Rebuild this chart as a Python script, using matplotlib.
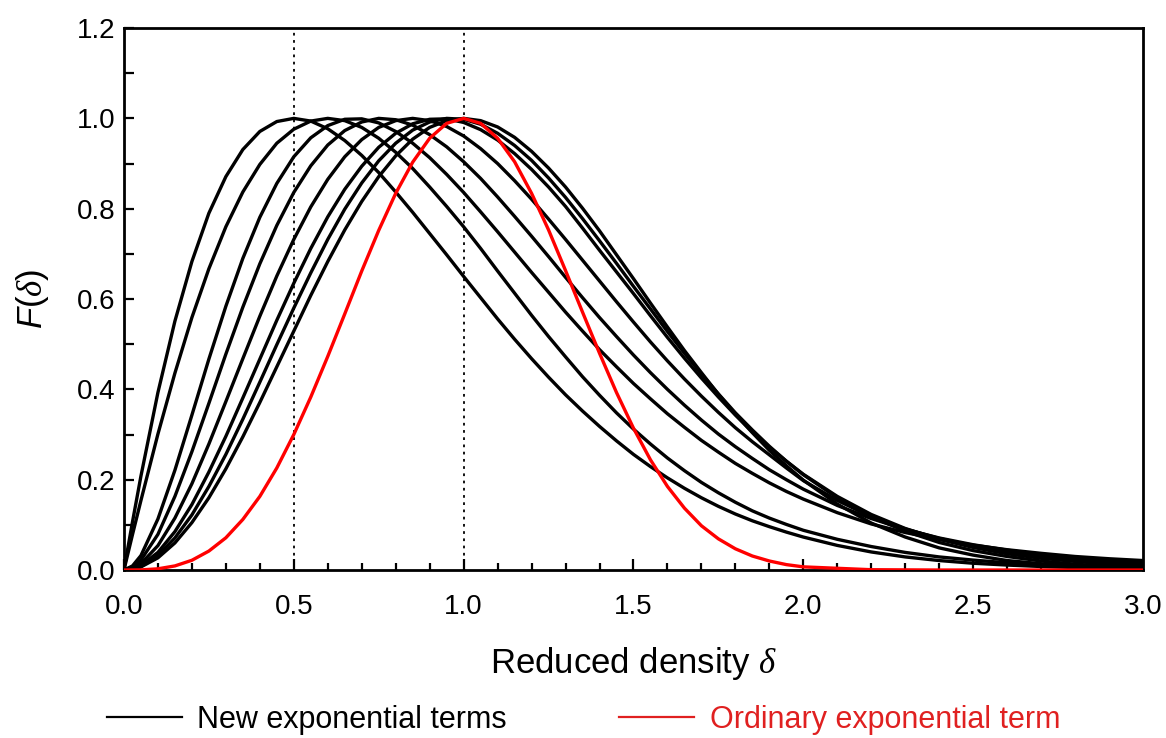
import matplotlib
matplotlib.use('Agg')
import matplotlib.pyplot as plt
from matplotlib.lines import Line2D
from matplotlib.ticker import MultipleLocator, FormatStrFormatter

plt.rcParams['font.family'] = ['Liberation Sans', 'DejaVu Sans']
plt.rcParams['mathtext.fontset'] = 'custom'
plt.rcParams['mathtext.rm'] = 'Liberation Sans'
plt.rcParams['mathtext.it'] = 'Liberation Serif:italic'
plt.rcParams['mathtext.sf'] = 'Liberation Sans:italic'

# reduced density grid for the new exponential terms
delta = [0, 0.025, 0.05, 0.1, 0.15, 0.2, 0.25, 0.3, 0.35, 0.4, 0.45, 0.5,
         0.55, 0.6, 0.65, 0.7, 0.75, 0.8, 0.85, 0.9, 0.95, 1.0, 1.05, 1.1, 1.15,
         1.2, 1.25, 1.3, 1.35, 1.4, 1.45, 1.5, 1.55, 1.6, 1.65, 1.7, 1.75, 1.8,
         1.85, 1.9, 1.95, 2.0,
         2.1, 2.2, 2.3, 2.4, 2.5, 2.6, 2.7, 2.8, 2.9, 3.0]

# new exponential terms
term_1 = [0, 0.106, 0.208, 0.393, 0.551, 0.683, 0.790, 0.871, 0.931, 0.971, 0.993, 1.0,
          0.994, 0.977, 0.951, 0.918, 0.880, 0.837, 0.792, 0.745, 0.698, 0.650, 0.603, 0.556,
          0.511, 0.468, 0.427, 0.388, 0.352, 0.318, 0.286, 0.256, 0.229, 0.204, 0.181, 0.160,
          0.141, 0.124, 0.109, 0.096, 0.084, 0.073,
          0.0545, 0.040, 0.029, 0.021, 0.015, 0.011, 0.0078, 0.0055, 0.0039, 0.003]
term_2 = [0, 0.078, 0.154, 0.301, 0.436, 0.559, 0.667, 0.760, 0.837, 0.898, 0.945, 0.976,
          0.994, 1.0, 0.995, 0.980, 0.956, 0.925, 0.889, 0.848, 0.805, 0.760, 0.712, 0.662,
          0.613, 0.564, 0.517, 0.472, 0.428, 0.387, 0.348, 0.312, 0.279, 0.248, 0.220, 0.194,
          0.171, 0.150, 0.131, 0.115, 0.101, 0.088,
          0.068, 0.052, 0.039, 0.029, 0.022, 0.016, 0.011, 0.008, 0.0055, 0.004]
term_3 = [0, 0.009, 0.032, 0.113, 0.221, 0.343, 0.467, 0.584, 0.690, 0.781, 0.856, 0.915,
          0.957, 0.984, 0.998, 0.999, 0.990, 0.971, 0.945, 0.913, 0.876, 0.836, 0.793, 0.749,
          0.704, 0.659, 0.615, 0.571, 0.529, 0.488, 0.450, 0.413, 0.379, 0.346, 0.316, 0.287,
          0.261, 0.236, 0.214, 0.193, 0.174, 0.157,
          0.127, 0.102, 0.083, 0.068, 0.055, 0.045, 0.037, 0.030, 0.025, 0.021]
term_4 = [0, 0.006, 0.022, 0.079, 0.163, 0.262, 0.369, 0.478, 0.582, 0.678, 0.763, 0.836,
          0.895, 0.941, 0.973, 0.992, 1.0, 0.997, 0.985, 0.964, 0.937, 0.904, 0.867, 0.826,
          0.783, 0.739, 0.694, 0.648, 0.603, 0.559, 0.517, 0.476, 0.437, 0.400, 0.365, 0.332,
          0.301, 0.273, 0.247, 0.222, 0.200, 0.179,
          0.143, 0.114, 0.090, 0.071, 0.056, 0.044, 0.034, 0.027, 0.021, 0.017]
term_5 = [0, 0.004, 0.014, 0.054, 0.115, 0.191, 0.279, 0.373, 0.468, 0.562, 0.651, 0.732,
          0.804, 0.865, 0.915, 0.953, 0.980, 0.995, 1.0, 0.995, 0.982, 0.961, 0.933, 0.900,
          0.862, 0.821, 0.777, 0.732, 0.686, 0.640, 0.594, 0.549, 0.505, 0.463, 0.423, 0.385,
          0.349, 0.315, 0.284, 0.255, 0.226, 0.198,
          0.154, 0.118, 0.091, 0.070, 0.053, 0.040, 0.030, 0.022, 0.016, 0.012]
term_6 = [0, 0.0025, 0.010, 0.039, 0.085, 0.145, 0.217, 0.296, 0.381, 0.467, 0.553, 0.635,
          0.712, 0.782, 0.843, 0.894, 0.936, 0.967, 0.988, 0.998, 0.999, 0.991, 0.975, 0.952,
          0.922, 0.887, 0.848, 0.805, 0.757, 0.708, 0.660, 0.612, 0.563, 0.515, 0.469, 0.425,
          0.383, 0.343, 0.306, 0.272, 0.241, 0.212,
          0.163, 0.123, 0.092, 0.068, 0.050, 0.036, 0.026, 0.019, 0.013, 0.009]
term_7 = [0, 0.002, 0.008, 0.032, 0.071, 0.122, 0.185, 0.256, 0.334, 0.416, 0.499, 0.580,
          0.658, 0.732, 0.799, 0.857, 0.906, 0.945, 0.974, 0.992, 1.0, 0.998, 0.987, 0.967,
          0.940, 0.907, 0.868, 0.825, 0.778, 0.729, 0.679, 0.628, 0.578, 0.528, 0.480, 0.434,
          0.390, 0.348, 0.310, 0.274, 0.241, 0.211,
          0.160, 0.118, 0.086, 0.061, 0.043, 0.030, 0.020, 0.013, 0.008, 0.006]
term_8 = [0, 0.0017, 0.0068, 0.027, 0.060, 0.105, 0.160, 0.224, 0.295, 0.371, 0.450, 0.529,
          0.608, 0.683, 0.753, 0.816, 0.871, 0.917, 0.954, 0.980, 0.995, 1.0, 0.995, 0.981,
          0.958, 0.927, 0.890, 0.848, 0.801, 0.751, 0.698, 0.645, 0.591, 0.538, 0.486, 0.437,
          0.389, 0.345, 0.304, 0.265, 0.231, 0.199,
          0.146, 0.104, 0.073, 0.049, 0.033, 0.021, 0.014, 0.008, 0.005, 0.003]

# ordinary exponential term
delta_ord = [0, 0.05, 0.1, 0.15, 0.2, 0.25, 0.3, 0.35, 0.4, 0.45, 0.5, 0.55, 0.6, 0.65,
             0.7, 0.75, 0.8, 0.85, 0.9, 0.95, 1.0, 1.05, 1.1, 1.15, 1.2, 1.25, 1.3, 1.35,
             1.4, 1.45, 1.5, 1.55, 1.6, 1.65, 1.7, 1.75, 1.8, 1.85, 1.9, 1.95, 2.0, 2.2,
             2.4, 2.6, 2.8, 3.0]
ordinary_term = [0, 0.0003, 0.0027, 0.0091, 0.0216, 0.042, 0.0714, 0.112, 0.163, 0.226,
                 0.300, 0.383, 0.473, 0.567, 0.662, 0.752, 0.834, 0.903, 0.956, 0.989, 1.0,
                 0.989, 0.956, 0.904, 0.834, 0.753, 0.663, 0.571, 0.480, 0.393, 0.314, 0.244,
                 0.185, 0.137, 0.098, 0.069, 0.047, 0.031, 0.020, 0.012, 0.007, 0.0007,
                 0, 0, 0, 0]

new_terms = [term_1, term_2, term_3, term_4, term_5, term_6, term_7, term_8]
guide_lines = [0.5, 1.0]

fig = plt.figure(figsize=(11.66, 7.38), dpi=100)
ax = fig.add_axes([0.1063, 0.2276, 0.874, 0.7344])

for g in guide_lines:
    ax.axvline(g, color='black', linestyle=(0, (1.5, 2.5)), lw=1.3, zorder=1)

for t in new_terms:
    ax.plot(delta, t, color='black', lw=2.4, zorder=2, solid_joinstyle='round')
ax.plot(delta_ord, ordinary_term, color='red', lw=2.4, zorder=3, solid_joinstyle='round')

ax.set_xlim(0, 3.0)
ax.set_ylim(0, 1.2)
ax.xaxis.set_major_locator(MultipleLocator(0.5))
ax.xaxis.set_minor_locator(MultipleLocator(0.1))
ax.yaxis.set_major_locator(MultipleLocator(0.2))
ax.yaxis.set_minor_locator(MultipleLocator(0.1))
ax.xaxis.set_major_formatter(FormatStrFormatter('%.1f'))
ax.yaxis.set_major_formatter(FormatStrFormatter('%.1f'))

ax.tick_params(which='both', direction='in', top=False, right=False, width=1.6)
ax.tick_params(axis='x', which='major', length=8, labelsize=20, pad=17)
ax.tick_params(axis='x', which='minor', length=5)
ax.tick_params(axis='y', which='major', length=7, labelsize=20, pad=6)
ax.tick_params(axis='y', which='minor', length=7)
for s in ax.spines.values():
    s.set_linewidth(2.0)

ax.set_xlabel(r'Reduced density $\delta$', fontsize=25)
ax.xaxis.label.set_va('center')
ax.xaxis.set_label_coords(0.5, -0.172)
ax.set_ylabel(r'$\mathsf{F}$($\delta$)', fontsize=25)
ax.yaxis.label.set_va('center')
ax.yaxis.set_label_coords(-0.090, 0.5)

handles = [Line2D([], [], color='black', lw=1.6),
           Line2D([], [], color='#e02020', lw=1.6)]
fig.legend(handles, ['New exponential terms', 'Ordinary exponential term'],
           loc='center', bbox_to_anchor=(0.5004, 0.0244), ncol=2, frameon=False,
           fontsize=22, handlelength=2.45, handletextpad=0.52, columnspacing=3.66,
           labelcolor=['black', '#e02020'])

fig.savefig('out.png', dpi=100)
